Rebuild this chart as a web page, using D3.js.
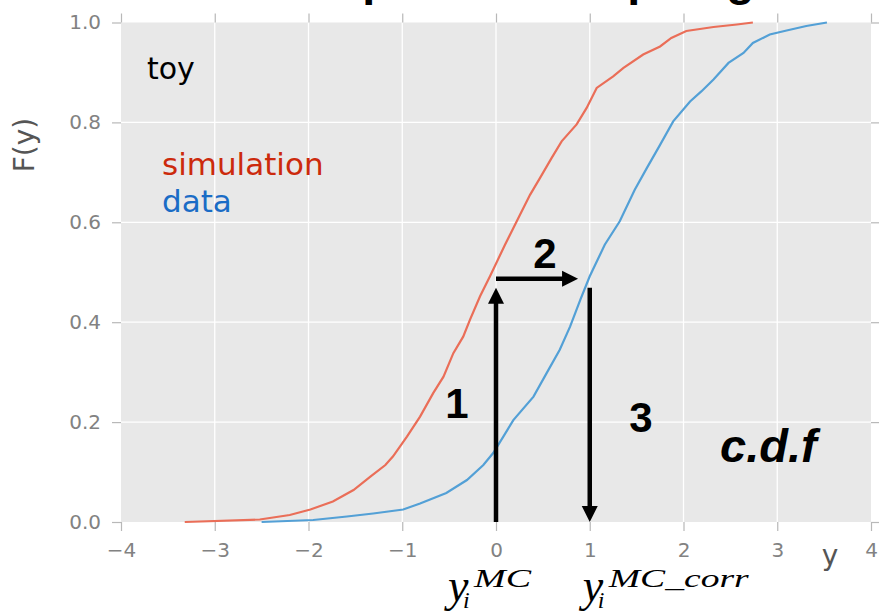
<!DOCTYPE html>
<html>
<head>
<meta charset="utf-8">
<script src="https://cdn.jsdelivr.net/npm/d3@7"></script>
<style>
  body { margin: 0; background: #ffffff; }
  svg { display: block; }
</style>
</head>
<body>
<svg id="chart" width="880" height="616"></svg>
<script>
// ---- data ----
const xTicks = [-4, -3, -2, -1, 0, 1, 2, 3, 4];
const yTicks = [0, 0.2, 0.4, 0.6, 0.8, 1.0];

// empirical c.d.f. of the simulated sample
const simX = [-3.32, -2.52, -2.2, -1.98, -1.74, -1.52, -1.34, -1.18, -1.10, -0.95, -0.81, -0.67,
              -0.56, -0.455, -0.35, -0.277, -0.17, -0.064, 0.096, 0.256, 0.363, 0.47, 0.594, 0.70,
              0.86, 0.967, 1.074, 1.25, 1.36, 1.57, 1.75, 1.87, 2.03, 2.32, 2.57, 2.74];
const simF = [0, 0.005, 0.014, 0.025, 0.041, 0.064, 0.091, 0.114, 0.131, 0.171, 0.211, 0.258,
              0.291, 0.338, 0.371, 0.405, 0.452, 0.492, 0.555, 0.615, 0.655, 0.689, 0.729, 0.762,
              0.796, 0.829, 0.869, 0.892, 0.909, 0.936, 0.952, 0.969, 0.983, 0.991, 0.996, 1.0];

// empirical c.d.f. of the data sample
const dataX = [-2.5, -1.95, -1.59, -1.31, -0.99, -0.81, -0.53, -0.31, -0.135, -0.03, 0.078, 0.185,
               0.4, 0.54, 0.68, 0.79, 0.9, 1.0, 1.16, 1.32, 1.48, 1.61, 1.75, 1.89, 2.07, 2.19,
               2.32, 2.48, 2.64, 2.74, 2.92, 3.10, 3.31, 3.53];
const dataF = [0, 0.004, 0.011, 0.017, 0.025, 0.037, 0.058, 0.084, 0.114, 0.138, 0.171, 0.204,
               0.251, 0.298, 0.345, 0.391, 0.445, 0.492, 0.555, 0.602, 0.665, 0.709, 0.755, 0.802,
               0.842, 0.862, 0.886, 0.919, 0.939, 0.959, 0.976, 0.984, 0.993, 1.0];

// the three steps of the correction: y_MC -> F -> y_MC_corr
const yMC = 0;
const yMCcorr = 1;
const stepF = [0.469, 0.487];      // level of the vertical arrows, level of the horizontal arrow
const stepEndX = 0.875;            // end of the horizontal arrow
const stepLabels = ["1", "2", "3"];

const titleText = "Example of a morphing";
const sampleLabel = "toy";
const seriesLabels = ["simulation", "data"];
const cdfLabel = "c.d.f";
const xLabel = "y";
const yLabel = "F(y)";

// ---- layout ----
const svg = d3.select("#chart");
const x = d3.scaleLinear().domain([-4, 4]).range([121, 871]);
const y = d3.scaleLinear().domain([0, 1]).range([522, 22.5]);
const [px0, px1] = x.range();
const [py0, py1] = y.range();

const tickColor = "#b8b8b8";
const labelColor = "#828282";

// title, running off the top of the figure
svg.append("text")
  .attr("x", x(0)).attr("y", -5.5)
  .attr("text-anchor", "middle")
  .attr("font-family", "Liberation Sans, Arial, sans-serif")
  .attr("font-weight", "bold")
  .attr("font-size", 46.8)
  .attr("fill", "#000")
  .text(titleText);

// panel background
svg.append("rect")
  .attr("x", px0).attr("y", py1)
  .attr("width", px1 - px0).attr("height", py0 - py1)
  .attr("fill", "#e8e8e8");

// grid
const grid = svg.append("g").attr("stroke", "#ffffff").attr("stroke-width", 1.3);
grid.selectAll("line.gx").data(xTicks.slice(1, -1)).join("line")
  .attr("x1", d => x(d)).attr("x2", d => x(d))
  .attr("y1", py1).attr("y2", py0);
grid.selectAll("line.gy").data(yTicks.slice(1, -1)).join("line")
  .attr("y1", d => y(d)).attr("y2", d => y(d))
  .attr("x1", px0).attr("x2", px1);

// axes, ticks pointing out on all four sides
const fmtX = d3.format("d");
const fmtY = d3.format(".1f");
function styleAxis(g) {
  g.select(".domain").remove();
  g.selectAll(".tick line").attr("stroke", tickColor).attr("stroke-width", 1.2);
  g.selectAll(".tick text")
    .attr("fill", labelColor)
    .attr("font-family", "DejaVu Sans, sans-serif")
    .attr("font-size", 20);
}
svg.append("g").attr("transform", `translate(0,${py0})`)
  .call(d3.axisBottom(x).tickValues(xTicks).tickFormat(fmtX).tickSizeInner(9).tickSizeOuter(0).tickPadding(12))
  .call(styleAxis);
svg.append("g").attr("transform", `translate(0,${py1})`)
  .call(d3.axisTop(x).tickValues(xTicks).tickFormat("").tickSizeInner(9).tickSizeOuter(0))
  .call(styleAxis);
svg.append("g").attr("transform", `translate(${px0},0)`)
  .call(d3.axisLeft(y).tickValues(yTicks).tickFormat(fmtY).tickSizeInner(9).tickSizeOuter(0).tickPadding(11))
  .call(styleAxis);
svg.append("g").attr("transform", `translate(${px1},0)`)
  .call(d3.axisRight(y).tickValues(yTicks).tickFormat("").tickSizeInner(8).tickSizeOuter(0))
  .call(styleAxis);

// axis titles
svg.append("text")
  .attr("x", 830).attr("y", 565)
  .attr("text-anchor", "middle")
  .attr("font-family", "DejaVu Sans, sans-serif")
  .attr("font-size", 28)
  .attr("fill", "#555")
  .text(xLabel);
svg.append("text")
  .attr("transform", "translate(34,145) rotate(-90)")
  .attr("text-anchor", "middle")
  .attr("font-family", "DejaVu Sans, sans-serif")
  .attr("font-size", 28)
  .attr("fill", "#555")
  .text(yLabel);

// curves
const defs = svg.append("defs");
defs.append("filter").attr("id", "soft")
  .append("feGaussianBlur").attr("stdDeviation", 0.55);

const line = d3.line().x(d => x(d[0])).y(d => y(d[1]));
svg.append("path")
  .datum(simX.map((v, i) => [v, simF[i]]))
  .attr("d", line)
  .attr("fill", "none")
  .attr("stroke", "#ea6e58")
  .attr("stroke-width", 2.2)
  .attr("filter", "url(#soft)");
svg.append("path")
  .datum(dataX.map((v, i) => [v, dataF[i]]))
  .attr("d", line)
  .attr("fill", "none")
  .attr("stroke", "#53a0d6")
  .attr("stroke-width", 2.2)
  .attr("filter", "url(#soft)");

// arrows
function arrow(x1, y1, x2, y2) {
  const a1 = [x(x1), y(y1)], a2 = [x(x2), y(y2)];
  const dx = a2[0] - a1[0], dy = a2[1] - a1[1];
  const len = Math.hypot(dx, dy), ux = dx / len, uy = dy / len;
  const headL = 16, headW = 8;
  const bx = a2[0] - ux * headL, by = a2[1] - uy * headL;
  const g = svg.append("g");
  g.append("line")
    .attr("x1", a1[0]).attr("y1", a1[1])
    .attr("x2", bx + ux * 1).attr("y2", by + uy * 1)
    .attr("stroke", "#000").attr("stroke-width", 4.5);
  g.append("polygon")
    .attr("points", [
      [a2[0], a2[1]],
      [bx - uy * headW, by + ux * headW],
      [bx + uy * headW, by - ux * headW]
    ].map(p => p.join(",")).join(" "))
    .attr("fill", "#000");
}
arrow(yMC, 0, yMC, stepF[0]);
arrow(yMC, stepF[1], stepEndX, stepF[1]);
arrow(yMCcorr, stepF[0], yMCcorr, 0);

// step numbers
const boldFont = "Liberation Sans, Arial, sans-serif";
const stepPos = [[457, 418], [545, 268], [641, 432]];
svg.selectAll("text.step").data(stepLabels).join("text")
  .attr("class", "step")
  .attr("x", (d, i) => stepPos[i][0]).attr("y", (d, i) => stepPos[i][1])
  .attr("text-anchor", "middle")
  .attr("font-family", boldFont)
  .attr("font-weight", "bold")
  .attr("font-size", 42)
  .attr("fill", "#000")
  .text(d => d);

svg.append("text")
  .attr("x", 720).attr("y", 462)
  .attr("font-family", boldFont)
  .attr("font-weight", "bold")
  .attr("font-style", "italic")
  .attr("font-size", 47)
  .attr("fill", "#000")
  .text(cdfLabel);

// in-panel labels
svg.append("text")
  .attr("x", 147).attr("y", 79)
  .attr("font-family", "DejaVu Sans, sans-serif")
  .attr("font-size", 30)
  .attr("fill", "#000")
  .text(sampleLabel);
const seriesColors = ["#cc2a0c", "#1a6cc6"];
svg.selectAll("text.series").data(seriesLabels).join("text")
  .attr("class", "series")
  .attr("x", 162).attr("y", (d, i) => 175 + i * 37)
  .attr("font-family", "DejaVu Sans, sans-serif")
  .attr("font-size", 31)
  .attr("fill", (d, i) => seriesColors[i])
  .text(d => d);

// math labels under the axis: y_i^{MC} and y_i^{MC_corr}, each one text element
const mathFont = "Liberation Serif, Times New Roman, serif";
function mathLabel(x0, sup, supLen) {
  const t = svg.append("text")
    .attr("font-family", mathFont)
    .attr("font-style", "italic")
    .attr("fill", "#000");
  t.append("tspan").attr("x", x0).attr("y", 601).attr("font-size", 46).text("y");
  t.append("tspan").attr("x", x0 + 15).attr("y", 608).attr("font-size", 24).text("i");
  t.append("tspan").attr("x", x0 + 26).attr("y", 587).attr("font-size", 26)
    .attr("textLength", supLen).attr("lengthAdjust", "spacingAndGlyphs")
    .text(sup);
}
mathLabel(x(yMC) - 48, "MC", 57);
mathLabel(x(yMCcorr) - 7, "MC_corr", 140);
</script>
</body>
</html>
